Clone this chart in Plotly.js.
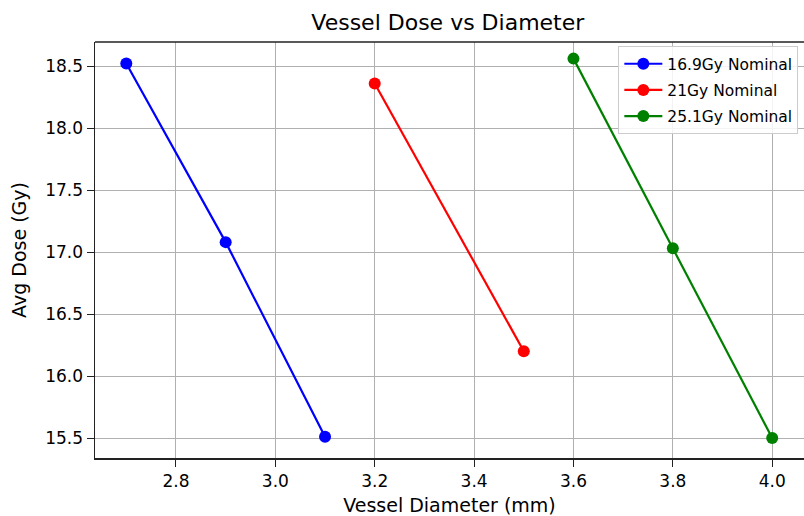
<!DOCTYPE html>
<html>
<head>
<script src="https://cdn.plot.ly/plotly-3.0.1.min.js"></script>
<style>html,body{margin:0;padding:0;background:#fff;}</style>
</head>
<body>
<div id="chart" style="width:804px;height:516px;"></div>
<script>
const seriesNames = ["16.9Gy Nominal", "21Gy Nominal", "25.1Gy Nominal"];
const diam169 = [2.7, 2.9, 3.1];
const dose169 = [18.52, 17.08, 15.51];
const diam21 = [3.2, 3.5];
const dose21 = [18.36, 16.20];
const diam251 = [3.6, 3.8, 4.0];
const dose251 = [18.56, 17.03, 15.50];
const colors = ["#0000ff", "#ff0000", "#008000"];
const xTicks = [2.8, 3.0, 3.2, 3.4, 3.6, 3.8, 4.0];
const xTickLabels = ["2.8", "3.0", "3.2", "3.4", "3.6", "3.8", "4.0"];
const yTicks = [15.5, 16.0, 16.5, 17.0, 17.5, 18.0, 18.5];
const yTickLabels = ["15.5", "16.0", "16.5", "17.0", "17.5", "18.0", "18.5"];

const FONT = "DejaVu Sans, sans-serif";
const xs = [diam169, diam21, diam251];
const ys = [dose169, dose21, dose251];
const traces = seriesNames.map((n, i) => ({
  x: xs[i], y: ys[i], name: n, type: "scatter", mode: "lines+markers",
  legendgroup: "g" + i,
  line: {color: colors[i], width: 2.2},
  marker: {color: colors[i], size: 12}
}));

const layout = {
  width: 804, height: 516,
  margin: {l: 95, r: 0, t: 42, b: 58},
  paper_bgcolor: "#fff", plot_bgcolor: "#fff",
  font: {family: FONT, color: "#000"},
  title: {text: "Vessel Dose vs Diameter", font: {size: 22, family: FONT, color: "#000"}, x: 0.557, xanchor: "center", y: 0.957, yanchor: "middle"},
  xaxis: {
    range: [2.637, 4.064], tickvals: xTicks, ticktext: xTickLabels,
    showgrid: true, gridcolor: "#b0b0b0", gridwidth: 1,
    showline: true, linecolor: "#222", linewidth: 1.5,
    ticks: "outside", ticklen: 7, tickcolor: "#222",
    tickfont: {size: 17, family: FONT},
    zeroline: false,
    title: {text: "Vessel Diameter (mm)", font: {size: 19, family: FONT}, standoff: 10}
  },
  yaxis: {
    range: [15.339, 18.694], tickvals: yTicks, ticktext: yTickLabels,
    showgrid: true, gridcolor: "#b0b0b0", gridwidth: 1,
    showline: true, linecolor: "#222", linewidth: 1.5,
    ticks: "outside", ticklen: 7, tickcolor: "#222",
    tickfont: {size: 17, family: FONT},
    zeroline: false,
    title: {text: "Avg Dose (Gy)", font: {size: 19, family: FONT}, standoff: 13}
  },
  shapes: [{type: "line", xref: "paper", yref: "paper", x0: 0, x1: 1, y0: 1, y1: 1, line: {color: "#222", width: 1.5}}],
  legend: {
    x: 0.992, xanchor: "right", y: 0.99, yanchor: "top",
    bgcolor: "rgba(255,255,255,0.85)", bordercolor: "#cccccc", borderwidth: 1,
    font: {size: 15.5, family: FONT}, tracegroupgap: 3, traceorder: "grouped",
    itemwidth: 38
  },
  showlegend: true
};

Plotly.newPlot("chart", traces, layout, {displayModeBar: false, staticPlot: true});
</script>
</body>
</html>
